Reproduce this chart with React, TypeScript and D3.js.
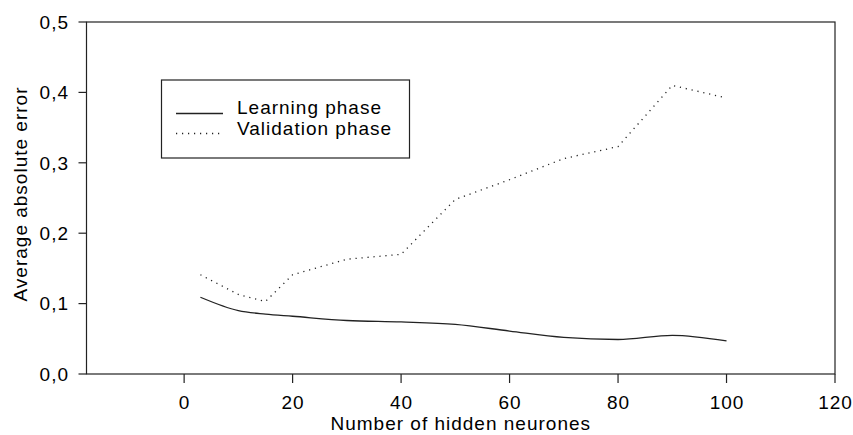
import React from 'react';
import * as d3 from 'd3';

const hiddenNeurones = [3, 10, 15, 20, 30, 40, 50, 60, 70, 80, 90, 100];
const learningError = [0.109, 0.09, 0.085, 0.082, 0.076, 0.074, 0.0705, 0.061, 0.052, 0.049, 0.055, 0.047];
const validationError = [0.141, 0.113, 0.103, 0.141, 0.163, 0.17, 0.248, 0.276, 0.306, 0.323, 0.41, 0.392];
const xTicks = [0, 20, 40, 60, 80, 100, 120];
const yTicks = [0, 0.1, 0.2, 0.3, 0.4, 0.5];

const width = 853;
const height = 435;
const plot = { left: 86.5, right: 835, top: 22, bottom: 374 };
const font = 'Arial, "Liberation Sans", sans-serif';

export default function App() {
  const x = d3.scaleLinear().domain([-18, 120]).range([plot.left, plot.right]);
  const y = d3.scaleLinear().domain([0, 0.5]).range([plot.bottom, plot.top]);

  const line = d3
    .line<[number, number]>()
    .x((d) => x(d[0]))
    .y((d) => y(d[1]))
    .curve(d3.curveMonotoneX);

  const learnPts = hiddenNeurones.map((n, i) => [n, learningError[i]] as [number, number]);
  const validPts = hiddenNeurones.map((n, i) => [n, validationError[i]] as [number, number]);

  const fmt = (v: number) => v.toFixed(1).replace('.', ',');
  const textStyle = { fontFamily: font, fontSize: 19, letterSpacing: 1 };

  return (
    <svg
      width={width}
      height={height}
      style={{ position: 'absolute', left: 0, top: 0, background: '#fff' }}
    >
      {/* frame */}
      <rect
        x={plot.left}
        y={plot.top}
        width={plot.right - plot.left}
        height={plot.bottom - plot.top}
        fill="#fff"
        stroke="#222"
        strokeWidth={1.2}
      />

      {/* y axis */}
      {yTicks.map((t) => (
        <g key={t}>
          <line x1={plot.left - 8} x2={plot.left} y1={y(t)} y2={y(t)} stroke="#222" strokeWidth={1.2} />
          <text x={69} y={y(t) + 6.8} textAnchor="end" fill="#000" style={textStyle}>
            {fmt(t)}
          </text>
        </g>
      ))}

      {/* x axis */}
      {xTicks.map((t) => (
        <g key={t}>
          <line x1={x(t)} x2={x(t)} y1={plot.bottom} y2={plot.bottom + 9} stroke="#222" strokeWidth={1.2} />
          <text x={x(t) + 0.5} y={409} textAnchor="middle" fill="#000" style={textStyle}>
            {t}
          </text>
        </g>
      ))}

      <text
        x={(plot.left + plot.right) / 2}
        y={430}
        textAnchor="middle"
        fill="#000"
        style={textStyle}
      >
        Number of hidden neurones
      </text>
      <text
        transform={`translate(27, ${(plot.top + plot.bottom) / 2 - 4}) rotate(-90)`}
        textAnchor="middle"
        fill="#000"
        style={textStyle}
      >
        Average absolute error
      </text>

      {/* series */}
      <path d={line(learnPts) ?? ''} fill="none" stroke="#222" strokeWidth={1.3} />
      <path
        d={line.curve(d3.curveLinear)(validPts) ?? ''}
        fill="none"
        stroke="#222"
        strokeWidth={1.3}
        strokeDasharray="1.2,4.8"
      />

      {/* legend */}
      <rect x={161.5} y={80} width={248} height={78} fill="#fff" stroke="#222" strokeWidth={1.2} />
      <line x1={176} x2={223} y1={113.5} y2={113.5} stroke="#222" strokeWidth={1.3} />
      <text x={237} y={114} fill="#000" style={textStyle}>
        Learning phase
      </text>
      <line
        x1={176}
        x2={220}
        y1={133.5}
        y2={133.5}
        stroke="#222"
        strokeWidth={1.3}
        strokeDasharray="1.2,4.8"
      />
      <text x={237} y={135} fill="#000" style={textStyle}>
        Validation phase
      </text>
    </svg>
  );
}
